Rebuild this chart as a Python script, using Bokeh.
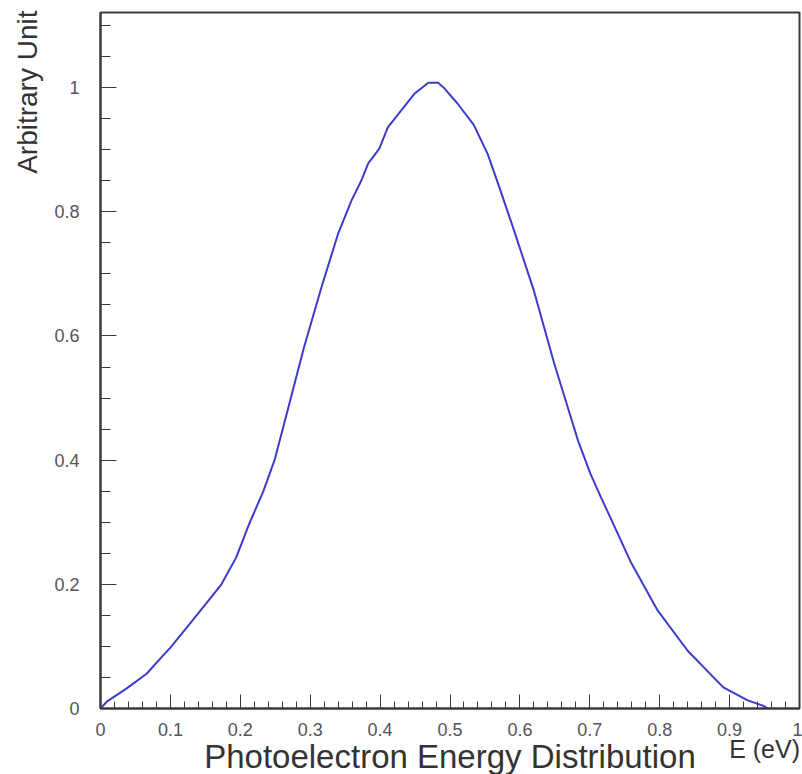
import numpy as np
from bokeh.plotting import figure
from bokeh.models import Range1d, FixedTicker, PrintfTickFormatter, Title, LinearAxis
from bokeh.embed import file_html
from bokeh.resources import INLINE

# Data
energy = [0.0, 0.010, 0.037, 0.066, 0.090, 0.100, 0.123, 0.151, 0.173, 0.194,
          0.213, 0.233, 0.249, 0.263, 0.291, 0.316, 0.340, 0.359, 0.373, 0.383,
          0.393, 0.399, 0.411, 0.430, 0.449, 0.469, 0.483, 0.491, 0.511, 0.534,
          0.554, 0.572, 0.591, 0.620, 0.649, 0.683, 0.701, 0.716, 0.726, 0.759,
          0.797, 0.840, 0.891, 0.926, 0.949, 0.955]
intensity = [0.0, 0.012, 0.032, 0.056, 0.086, 0.098, 0.130, 0.169, 0.200, 0.243,
             0.298, 0.350, 0.400, 0.460, 0.581, 0.678, 0.765, 0.818, 0.850, 0.878,
             0.893, 0.902, 0.936, 0.963, 0.990, 1.008, 1.008, 1.000, 0.974, 0.940,
             0.893, 0.835, 0.772, 0.673, 0.556, 0.432, 0.378, 0.340, 0.316, 0.235,
             0.158, 0.093, 0.034, 0.013, 0.004, 0.0]

x_ticks = [0, 0.1, 0.2, 0.3, 0.4, 0.5, 0.6, 0.7, 0.8, 0.9, 1]
y_ticks = [0, 0.2, 0.4, 0.6, 0.8, 1]

x_title = "Photoelectron Energy Distribution"
x_unit = "E (eV)"
y_title = "Arbitrary Unit"

FONT = "Liberation Sans"

p = figure(width=802, height=774, output_backend="svg", toolbar_location=None,
           x_range=Range1d(0, 1), y_range=Range1d(0, 1.121),
           min_border_left=99, min_border_right=3, min_border_top=12,
           min_border_bottom=66)
p.background_fill_color = "white"
p.border_fill_color = "white"
p.outline_line_color = "#3a3a3a"
p.outline_line_width = 2
p.xgrid.visible = False
p.ygrid.visible = False

p.line(energy, intensity, line_color="#3c3ccc", line_width=2)

x_minor = [round(v, 2) for v in np.arange(0, 1.0001, 0.02)]
y_minor = [round(v, 2) for v in np.arange(0, 1.12, 0.05)]

p.xaxis.ticker = FixedTicker(ticks=x_ticks, minor_ticks=x_minor)
p.yaxis.ticker = FixedTicker(ticks=y_ticks, minor_ticks=y_minor)
for ax in (p.xaxis, p.yaxis):
    ax.formatter = PrintfTickFormatter(format="%g")
    ax.axis_line_color = "#3a3a3a"
    ax.axis_line_width = 2
    ax.major_tick_line_color = "#3a3a3a"
    ax.minor_tick_line_color = "#3a3a3a"
    ax.major_tick_out = 0
    ax.minor_tick_out = 0
    ax.major_label_text_font = FONT
    ax.major_label_text_font_size = "18px"
    ax.major_label_text_color = "#555555"

p.xaxis.major_tick_in = 14
p.xaxis.minor_tick_in = 7
p.xaxis.major_label_standoff = 14
p.yaxis.major_tick_in = 16
p.yaxis.minor_tick_in = 10
p.yaxis.major_label_standoff = 21

# "E (eV)": an extra x axis under the main one that only shows this one text
unit_axis = LinearAxis(ticker=FixedTicker(ticks=[0.95], minor_ticks=[]),
                       major_label_overrides={0.95: x_unit})
unit_axis.axis_line_color = None
unit_axis.major_tick_line_color = None
unit_axis.minor_tick_line_color = None
unit_axis.major_tick_out = 0
unit_axis.major_tick_in = 0
unit_axis.major_label_standoff = -4
unit_axis.major_label_text_font = FONT
unit_axis.major_label_text_font_size = "25px"
unit_axis.major_label_text_color = "#333333"
p.add_layout(unit_axis, "below")

# main x title, centred under the frame
p.add_layout(Title(text=x_title, align="center", vertical_align="top",
                   text_font=FONT, text_font_size="33px",
                   text_font_style="normal", text_color="#333333",
                   standoff=-56), "below")

p.add_layout(Title(text=y_title, align="right", offset=-2, text_font=FONT,
                   text_font_size="28px", text_font_style="normal",
                   text_color="#333333", standoff=18), "left")

open("out.html", "w").write(file_html(p, INLINE))
